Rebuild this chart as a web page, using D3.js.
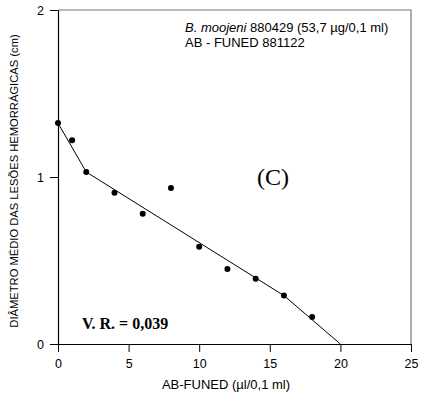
<!DOCTYPE html>
<html><head><meta charset="utf-8">
<script src="https://cdn.jsdelivr.net/npm/d3@7"></script>
<style>body{margin:0;background:#fff}svg{display:block}</style>
</head><body>
<script>
const doseX = [0, 1, 2, 4, 6, 8, 10, 12, 14, 16, 18];
const diamY = [1.323, 1.22, 1.03, 0.905, 0.78, 0.934, 0.583, 0.449, 0.39, 0.29, 0.162];
const fitX = [0, 2, 16, 20];
const fitY = [1.323, 1.03, 0.29, 0];
const xTicks = [0, 5, 10, 15, 20, 25];
const yTicks = [0, 1, 2];

const W = 428, H = 400;
const m = {l: 58, r: 17, t: 10, b: 56};
const svg = d3.select("body").append("svg").attr("width", W).attr("height", H);
const x = d3.scaleLinear().domain([0, 25]).range([m.l, W - m.r]);
const y = d3.scaleLinear().domain([0, 2]).range([H - m.b, m.t]);

// frame (top/right)
svg.append("path").attr("d", `M${x(0)},${y(2)}H${x(25)}V${y(0)}`)
  .attr("fill", "none").attr("stroke", "#777").attr("stroke-width", 1.2);

const font = "Arial, 'Liberation Sans', sans-serif";
const xa = svg.append("g").attr("transform", `translate(0,${y(0)})`)
  .call(d3.axisBottom(x).tickValues(xTicks).tickSize(8).tickPadding(7).tickSizeOuter(0));
const ya = svg.append("g").attr("transform", `translate(${x(0)},0)`)
  .call(d3.axisLeft(y).tickValues(yTicks).tickFormat(d3.format("d")).tickSize(8).tickPadding(6).tickSizeOuter(0));
[xa, ya].forEach(a => {
  a.select(".domain").attr("stroke", "#000").attr("stroke-width", 1.2);
  a.selectAll(".tick line").attr("stroke", "#000");
  a.selectAll("text").attr("font-family", font).attr("font-size", 12.5).attr("fill", "#000");
});

svg.append("path").datum(fitX.map((d, i) => [d, fitY[i]]))
  .attr("d", d3.line().x(d => x(d[0])).y(d => y(d[1])))
  .attr("fill", "none").attr("stroke", "#000").attr("stroke-width", 1);

svg.selectAll("circle.pt").data(doseX.map((d, i) => [d, diamY[i]])).join("circle")
  .attr("class", "pt").attr("cx", d => x(d[0])).attr("cy", d => y(d[1])).attr("r", 3).attr("fill", "#000");

// texts
const t1 = svg.append("text").attr("x", 185).attr("y", 32).attr("font-family", font).attr("font-size", 13);
t1.append("tspan").attr("font-style", "italic").text("B. moojeni");
t1.append("tspan").text(" 880429 (53,7 µg/0,1 ml)");
svg.append("text").attr("x", 185).attr("y", 47).attr("font-family", font).attr("font-size", 13).text("AB - FUNED 881122");

svg.append("text").attr("x", 273).attr("y", 185).attr("text-anchor", "middle")
  .attr("font-family", "'Times New Roman', 'Liberation Serif', serif").attr("font-size", 24).text("(C)");

svg.append("text").attr("x", 82).attr("y", 329)
  .attr("font-family", "'Times New Roman', 'Liberation Serif', serif").attr("font-size", 16).attr("font-weight", "bold")
  .text("V. R. = 0,039");

svg.append("text").attr("x", 226).attr("y", 389).attr("text-anchor", "middle")
  .attr("font-family", font).attr("font-size", 13).text("AB-FUNED (µl/0,1 ml)");

svg.append("text").attr("transform", `translate(18,${(y(0) + y(2)) / 2 + 4}) rotate(-90)`)
  .attr("text-anchor", "middle").attr("font-family", font).attr("font-size", 11.2)
  .text("DIÂMETRO MÉDIO DAS LESÕES HEMORRÁGICAS (cm)");
</script>
</body></html>
